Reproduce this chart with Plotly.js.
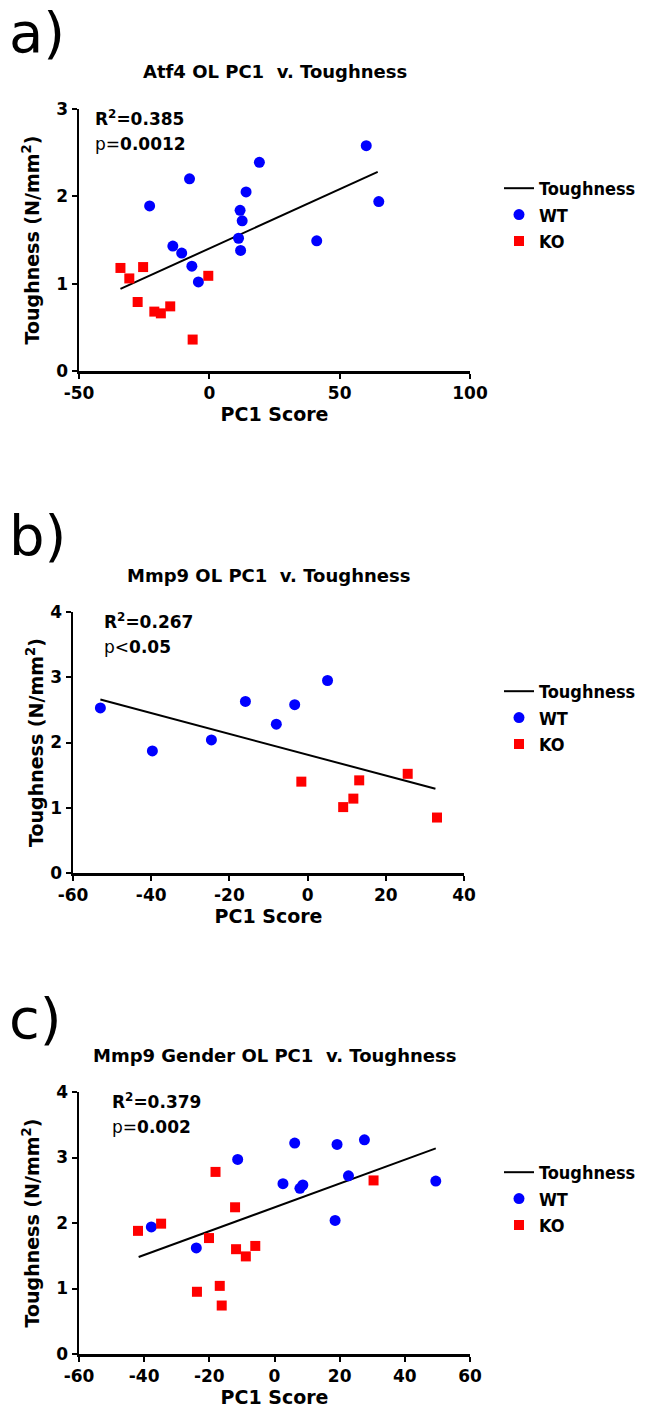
<!DOCTYPE html>
<html>
<head>
<meta charset="utf-8">
<script src="https://cdn.plot.ly/plotly-3.0.1.min.js"></script>
<style>html,body{margin:0;padding:0;background:#fff;}#chart{width:657px;height:1416px;}</style>
</head>
<body>
<div id="chart"></div>
<script>
// Panel a: Atf4 OL PC1 v. Toughness
const aWTx = [60.2, 19.2, -7.6, -22.9, 14.1, 11.8, 12.6, 11.2, 12.0, 65.0, 41.2, -14.0, -10.6, -6.7, -4.2];
const aWTy = [2.58, 2.39, 2.20, 1.89, 2.05, 1.84, 1.72, 1.52, 1.38, 1.94, 1.49, 1.43, 1.35, 1.20, 1.02];
const aKOx = [-34.1, -30.7, -25.4, -27.5, -21.1, -18.6, -15.0, -6.4, -0.4];
const aKOy = [1.18, 1.06, 1.19, 0.79, 0.68, 0.66, 0.74, 0.36, 1.09];
const aFitX = [-34.1, 64.6];
const aFitY = [0.94, 2.28];

// Panel b: Mmp9 OL PC1 v. Toughness
const bWTx = [-53.0, -39.7, -24.6, -15.9, -8.0, -3.3, 5.1];
const bWTy = [2.53, 1.87, 2.04, 2.63, 2.28, 2.58, 2.95];
const bKOx = [-1.6, 9.1, 11.7, 13.2, 25.6, 33.1];
const bKOy = [1.40, 1.01, 1.14, 1.42, 1.52, 0.85];
const bFitX = [-53.0, 32.7];
const bFitY = [2.66, 1.29];

// Panel c: Mmp9 Gender OL PC1 v. Toughness
const cWTx = [-37.8, -24.0, -11.3, 2.6, 6.2, 7.8, 8.7, 18.6, 19.2, 22.7, 27.6, 49.5];
const cWTy = [1.94, 1.62, 2.97, 2.60, 3.22, 2.53, 2.58, 2.04, 3.20, 2.72, 3.27, 2.64];
const cKOx = [-41.9, -34.8, -18.1, -20.1, -12.1, -11.8, -8.8, -5.9, -23.8, -16.8, -16.2, 30.4];
const cKOy = [1.88, 1.99, 2.78, 1.77, 2.24, 1.60, 1.49, 1.65, 0.95, 1.04, 0.74, 2.65];
const cFitX = [-41.7, 49.5];
const cFitY = [1.48, 3.14];

// Tick labels
const aXTicks = [-50, 0, 50, 100];
const aXLabels = ['-50', '0', '50', '100'];
const bXTicks = [-60, -40, -20, 0, 20, 40];
const bXLabels = ['-60', '-40', '-20', '0', '20', '40'];
const cXTicks = [-60, -40, -20, 0, 20, 40, 60];
const cXLabels = ['-60', '-40', '-20', '0', '20', '40', '60'];
const aYTicks = [0, 1, 2, 3];
const bYTicks = [0, 1, 2, 3, 4];
const cYTicks = [0, 1, 2, 3, 4];

const panelLabels = ['a)', 'b)', 'c)'];
const titles = ['Atf4 OL PC1  v. Toughness', 'Mmp9 OL PC1  v. Toughness', 'Mmp9 Gender OL PC1  v. Toughness'];
const r2Texts = ['0.385', '0.267', '0.379'];
const pOps = ['=', '<', '='];
const pVals = ['0.0012', '0.05', '0.002'];
const xRanges = [[-50, 100], [-60, 40], [-60, 60]];
const yRanges = [[0, 3], [0, 4], [0, 4]];
const xTicks = [[aXTicks, aXLabels], [bXTicks, bXLabels], [cXTicks, cXLabels]];
const yTicks = [aYTicks, bYTicks, cYTicks];

const W = 657, H = 1416;
const FONT = 'DejaVu Sans, Verdana, sans-serif';
const LFONT = 'DejaVu Sans Condensed, DejaVu Sans, sans-serif';
const px = v => v / W;
const py = v => 1 - v / H;

// layout geometry in pixels: [xLeft, xRight, yBottom, yTop]
const geo = [[79, 470, 371, 109], [73, 464, 873, 612], [79, 470, 1354, 1092]];
const legendTop = [170, 673, 1154];
const labelY = [32, 536, 1018];
const statsX = [93, 102, 110];
const yTitleStandoff = [12, 2, 12];

const data = [];
const panels = [
  [aWTx, aWTy, aKOx, aKOy, aFitX, aFitY],
  [bWTx, bWTy, bKOx, bKOy, bFitX, bFitY],
  [cWTx, cWTy, cKOx, cKOy, cFitX, cFitY]
];
panels.forEach((p, i) => {
  const ax = i === 0 ? '' : String(i + 1);
  const lg = i === 0 ? 'legend' : 'legend' + (i + 1);
  data.push({x: p[4], y: p[5], mode: 'lines', name: 'Toughness', line: {color: '#000', width: 2},
    xaxis: 'x' + ax, yaxis: 'y' + ax, legend: lg, hoverinfo: 'skip'});
  data.push({x: p[0], y: p[1], mode: 'markers', name: 'WT', marker: {color: '#0000FF', symbol: 'circle', size: 11},
    xaxis: 'x' + ax, yaxis: 'y' + ax, legend: lg});
  data.push({x: p[2], y: p[3], mode: 'markers', name: 'KO', marker: {color: '#FF0000', symbol: 'square', size: 10},
    xaxis: 'x' + ax, yaxis: 'y' + ax, legend: lg});
});

const layout = {
  width: W, height: H,
  margin: {l: 0, r: 0, t: 0, b: 0},
  paper_bgcolor: '#fff', plot_bgcolor: '#fff',
  font: {family: FONT, color: '#000'},
  showlegend: true,
  annotations: []
};

geo.forEach((g, i) => {
  const ax = i === 0 ? '' : String(i + 1);
  const common = {
    showline: true, linewidth: 2.5, linecolor: '#000',
    ticks: 'outside', ticklen: 5, tickwidth: 2, tickcolor: '#000',
    showgrid: false, zeroline: false, fixedrange: true,
    tickfont: {family: FONT, size: 17, weight: 'bold', color: '#000'}
  };
  layout['xaxis' + ax] = Object.assign({}, common, {
    domain: [px(g[0]), px(g[1])], range: xRanges[i],
    tickmode: 'array', tickvals: xTicks[i][0], ticktext: xTicks[i][1],
    anchor: 'y' + ax,
    title: {text: 'PC1 Score', font: {family: FONT, size: 19, weight: 'bold'}, standoff: 0}
  });
  layout['yaxis' + ax] = Object.assign({}, common, {
    domain: [py(g[2]), py(g[3])], range: yRanges[i],
    tickmode: 'array', tickvals: yTicks[i],
    anchor: 'x' + ax,
    title: {text: 'Toughness (N/mm<sup>2</sup>)', font: {family: FONT, size: 19, weight: 'bold'}, standoff: yTitleStandoff[i]}
  });
  const lg = i === 0 ? 'legend' : 'legend' + (i + 1);
  layout[lg] = {
    x: px(499), y: py(legendTop[i]), xanchor: 'left', yanchor: 'top',
    bgcolor: 'rgba(0,0,0,0)', font: {family: LFONT, size: 18, weight: 'bold', color: '#000'},
    tracegroupgap: 0
  };
  // panel letter
  layout.annotations.push({
    xref: 'paper', yref: 'paper', x: px(7), y: py(labelY[i]), xanchor: 'left', yanchor: 'middle',
    text: panelLabels[i], showarrow: false,
    font: {family: 'DejaVu Sans, sans-serif', size: 56, color: '#000'}
  });
  // title
  layout.annotations.push({
    xref: 'paper', yref: 'paper', x: px((g[0] + g[1]) / 2), y: py(g[3] - 37), xanchor: 'center', yanchor: 'middle',
    text: titles[i], showarrow: false,
    font: {family: FONT, size: 18, weight: 'bold', color: '#000'}
  });
  // stats
  layout.annotations.push({
    xref: 'paper', yref: 'paper', x: px(statsX[i]), y: py(g[3] + 9), xanchor: 'left', yanchor: 'middle',
    text: '<b>R<sup>2</sup>=' + r2Texts[i] + '</b>', showarrow: false, align: 'left',
    font: {family: FONT, size: 17, color: '#000'}
  });
  layout.annotations.push({
    xref: 'paper', yref: 'paper', x: px(statsX[i]), y: py(g[3] + 35), xanchor: 'left', yanchor: 'middle',
    text: 'p' + pOps[i] + '<b>' + pVals[i] + '</b>', showarrow: false, align: 'left',
    font: {family: FONT, size: 17, color: '#000'}
  });
});

Plotly.newPlot('chart', data, layout, {staticPlot: true, displayModeBar: false});
</script>
</body>
</html>
